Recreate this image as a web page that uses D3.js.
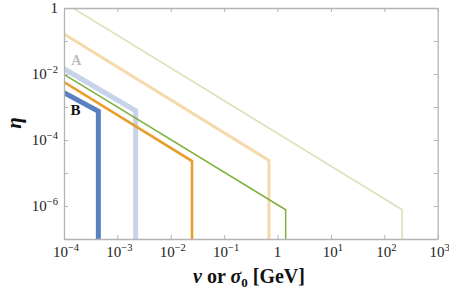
<!DOCTYPE html>
<html>
<head>
<meta charset="utf-8">
<script src="https://cdn.jsdelivr.net/npm/d3@7"></script>
<style>
  body { margin: 0; background: #fff; }
  .frame path, .frame line { stroke: #b4b4b4; }
</style>
</head>
<body>
<div id="chart"></div>
<script>
// each curve: [v, eta] corner points (start at left edge, kink, drop to bottom)
var curveLightGreen  = [[1e-4, 1.46],   [216, 7.7e-7],   [216, 1e-7]];
var curveLightOrange = [[1e-4, 0.164],  [0.69, 2.4e-5],  [0.69, 1e-7]];
var curveLightBlue   = [[1e-4, 0.0144], [2.2e-3, 7.7e-4], [2.2e-3, 1e-7]];
var curveGreen       = [[1e-4, 0.0097], [1.42, 7.7e-7],  [1.42, 1e-7]];
var curveOrange      = [[1e-4, 5.7e-3], [0.025, 2.3e-5], [0.025, 1e-7]];
var curveDarkBlue    = [[1e-4, 2.7e-3], [4.4e-4, 7.4e-4], [4.4e-4, 1e-7]];

var xTicks = [-4, -3, -2, -1, 0, 1, 2, 3];          // exponents
var yTicks = [0, -1, -2, -3, -4, -5, -6, -7];
var yLabelled = [0, -2, -4, -6];

var labelA = {v: 1.37e-4, eta: 0.0185, text: "A"};
var labelB = {v: 1.33e-4, eta: 5.6e-4, text: "B"};

var serif = "Liberation Serif, Times New Roman, DejaVu Serif, serif";

var width = 449, height = 292;
var margin = {top: 8, right: 11.3, bottom: 53, left: 64};
var w = width - margin.left - margin.right;
var h = height - margin.top - margin.bottom;

var svg = d3.select("#chart").append("svg")
  .attr("width", width)
  .attr("height", height)
  .style("font-family", serif);

var plot = svg.append("g")
  .attr("transform", "translate(" + margin.left + "," + margin.top + ")");

var x = d3.scaleLog().domain([1e-4, 1e3]).range([0, w]);
var y = d3.scaleLog().domain([1e-7, 1]).range([h, 0]);

plot.append("clipPath").attr("id", "clip")
  .append("rect").attr("width", w).attr("height", h);

var line = d3.line()
  .x(d => x(d[0]))
  .y(d => y(d[1]));

var curves = [
  {data: curveLightGreen,  color: "#d7e4b8", width: 1.6},
  {data: curveLightOrange, color: "#f6d9aa", width: 3},
  {data: curveLightBlue,   color: "#c6d3e8", width: 5},
  {data: curveGreen,       color: "#7fb03e", width: 1.5},
  {data: curveOrange,      color: "#e79e2a", width: 2.6},
  {data: curveDarkBlue,    color: "#5a80c0", width: 5}
];

plot.append("g").attr("clip-path", "url(#clip)")
  .selectAll("path")
  .data(curves)
  .enter().append("path")
  .attr("fill", "none")
  .attr("stroke", d => d.color)
  .attr("stroke-width", d => d.width)
  .attr("stroke-linejoin", "miter")
  .attr("d", d => line(d.data));

// frame with inward ticks
var xVals = xTicks.map(e => Math.pow(10, e));
var yVals = yTicks.map(e => Math.pow(10, e));

plot.append("g").attr("class", "frame")
  .attr("transform", "translate(0," + h + ")")
  .call(d3.axisBottom(x).tickValues(xVals).tickSize(-4).tickSizeOuter(0).tickFormat(""));
plot.append("g").attr("class", "frame")
  .call(d3.axisTop(x).tickValues(xVals).tickSize(-4).tickSizeOuter(0).tickFormat(""));
plot.append("g").attr("class", "frame")
  .call(d3.axisLeft(y).tickValues(yVals).tickSize(-4).tickSizeOuter(0).tickFormat(""));
plot.append("g").attr("class", "frame")
  .attr("transform", "translate(" + w + ",0)")
  .call(d3.axisRight(y).tickValues(yVals).tickSize(-4).tickSizeOuter(0).tickFormat(""));

plot.selectAll(".frame path").attr("stroke-width", 1.3);

function powLabel(sel, e) {
  if (e === 0) { sel.append("tspan").text("1"); return; }
  sel.append("tspan").text("10");
  sel.append("tspan").attr("dy", -6).attr("font-size", 10.5)
    .text(e === 1 ? "1" : String(e).replace("-", "\u2212"));
}

// x tick labels
xTicks.forEach(function(e) {
  var t = plot.append("text")
    .style("font-family", serif)
    .attr("x", x(Math.pow(10, e)) + (e === 0 ? 0 : 2))
    .attr("y", h + 18)
    .attr("text-anchor", "middle")
    .attr("font-size", 15)
    .attr("fill", "#222");
  powLabel(t, e);
});

// y tick labels
yLabelled.forEach(function(e) {
  var t = plot.append("text")
    .style("font-family", serif)
    .attr("x", -6)
    .attr("y", y(Math.pow(10, e)) + 5)
    .attr("text-anchor", "end")
    .attr("font-size", 15)
    .attr("fill", "#222");
  powLabel(t, e);
});

// series labels
plot.append("text")
  .style("font-family", serif)
  .attr("x", x(labelA.v)).attr("y", y(labelA.eta))
  .attr("font-size", 14).attr("font-weight", "bold").attr("fill", "#bdbdbd")
  .text(labelA.text);
plot.append("text")
  .style("font-family", serif)
  .attr("x", x(labelB.v)).attr("y", y(labelB.eta))
  .attr("font-size", 15).attr("font-weight", "bold").attr("fill", "#111")
  .text(labelB.text);

// axis titles
var xt = svg.append("text")
  .style("font-family", serif)
  .attr("x", 249).attr("y", 283)
  .attr("text-anchor", "middle")
  .attr("font-size", 20).attr("font-weight", "bold").attr("fill", "#111");
xt.append("tspan").attr("font-style", "italic").text("v");
xt.append("tspan").text(" or ");
xt.append("tspan").attr("font-style", "italic").text("\u03C3");
xt.append("tspan").attr("font-size", 13).attr("dy", 4).text("0");
xt.append("tspan").attr("dy", -4).text(" [GeV]");

svg.append("text")
  .style("font-family", serif)
  .attr("transform", "translate(21,123) rotate(-90)")
  .attr("text-anchor", "middle")
  .attr("font-size", 21).attr("font-weight", "bold").attr("font-style", "italic")
  .attr("fill", "#111")
  .text("\u03B7");
</script>
</body>
</html>
